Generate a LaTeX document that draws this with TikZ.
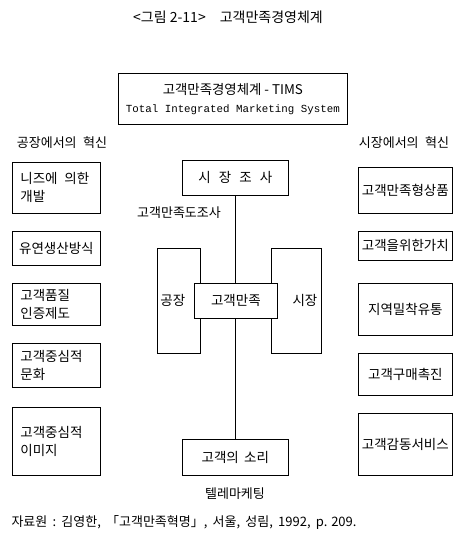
\documentclass[tikz,border=0pt]{standalone}
\usepackage{fontspec}
\setmainfont{Noto Sans CJK KR}
\newfontfamily\engmono{Liberation Mono}
\usetikzlibrary{positioning}

\begin{document}
\begin{tikzpicture}[
    x=1pt, y=-1pt,
    box/.style={draw=black, line width=0.7pt, fill=white, inner sep=0pt, anchor=north west, font=\fontsize{13.5}{18}\selectfont},
    lbox/.style={box, align=left, text width=72pt, inner xsep=8pt, minimum width=88pt},
    rbox/.style={box, align=center, minimum width=94pt},
    cbox/.style={box, align=center},
    tallbox/.style={draw=black, line width=0.7pt, anchor=north west, inner sep=0pt, font=\fontsize{13.5}{18}\selectfont},
    conn/.style={draw=black, line width=0.7pt},
    label/.style={font=\fontsize{13}{16}\selectfont}
]
\useasboundingbox (0,0) rectangle (462,544);

% =========================================================================
% 제목 및 TIMS
% =========================================================================
\node[font=\fontsize{14}{16}\selectfont] (title) at (228,17) {<그림 2-11>\quad 고객만족경영체계};
\node[box, minimum width=229pt, minimum height=51pt, align=center] (tims) at (118,73)
    {\fontsize{13.4}{18}\selectfont 고객만족경영체계 - TIMS\\{\engmono\fontsize{10.8}{18}\selectfont Total Integrated Marketing System}};

% =========================================================================
% 공장에서의 혁신 (왼쪽)
% =========================================================================
\node[label] (lhead) at (62,143) {공장에서의\hspace{0.5em}혁신};
\node[lbox, minimum height=51pt] (needs)   at (12,162) {니즈에\hspace{0.5em}의한\\개발};
\node[box, minimum width=88pt, minimum height=34pt] (flex) at (12,231) {유연생산방식};
\node[lbox, minimum height=42pt] (quality) at (12,283) {고객품질\\인증제도};
\node[lbox, minimum height=44pt] (culture) at (12,343) {고객중심적\\문화};
\node[lbox, minimum height=68pt] (image)   at (12,407) {고객중심적\\이미지};

% =========================================================================
% 시장에서의 혁신 (오른쪽)
% =========================================================================
\node[label] (rhead) at (404,143) {시장에서의\hspace{0.5em}혁신};
\node[rbox, minimum height=46pt] (product) at (358,167) {고객만족형상품};
\node[rbox, minimum height=29pt] (value)   at (358,231) {고객을위한가치};
\node[rbox, minimum height=52pt] (retail)  at (358,283) {지역밀착유통};
\node[rbox, minimum height=42pt] (promo)   at (358,353) {고객구매촉진};
\node[rbox, minimum height=62pt] (service) at (358,413) {고객감동서비스};

% =========================================================================
% 가운데: 공장 - 고객만족 - 시장
% =========================================================================
\node[tallbox, minimum width=43pt, minimum height=105pt, text width=37pt, inner xsep=3pt, align=left] (factory) at (157,248) {공장};
\node[tallbox, minimum width=50pt, minimum height=105pt, text width=42pt, inner xsep=4pt, align=right] (market) at (271,248) {시장};

\node[cbox, minimum width=106pt, minimum height=35pt] (research) at (182,160) {시\hspace{0.6em}장\hspace{0.6em}조\hspace{0.6em}사};
\node[cbox, minimum width=106pt, minimum height=36pt] (voice) at (182,439) {고객의\hspace{0.4em}소리};

\draw[conn] (research.south) -- (voice.north);
\node[cbox, minimum width=83pt, minimum height=35pt] (satisf) at (194,283) {고객만족};

\node[label] (survey) at (179,213) {고객만족도조사};
\node[label] (tele) at (235,494) {텔레마케팅};

% 출처
\node[label, anchor=west] (source) at (8,522) {자료원\hspace{0.4em}:\hspace{0.4em}김영한,\hspace{0.4em}「고객만족혁명」,\hspace{0.4em}서울,\hspace{0.4em}성림,\hspace{0.4em}1992,\hspace{0.4em}p.\hspace{0.3em}209.};

\end{tikzpicture}
\end{document}
